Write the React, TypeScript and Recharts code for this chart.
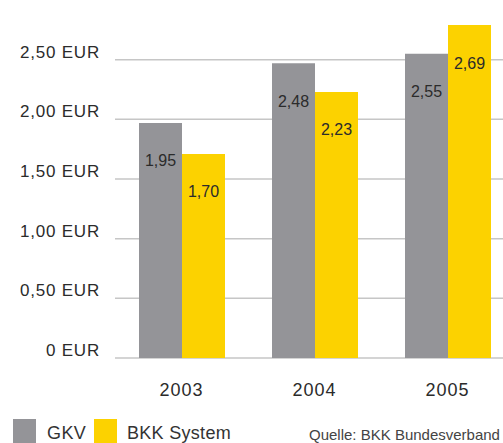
import { BarChart, Bar, XAxis, YAxis, CartesianGrid, LabelList } from 'recharts'

const years = ['2003', '2004', '2005']
const gkvValues = [1.97, 2.47, 2.55]
const gkvLabels = ['1,95', '2,48', '2,55']
const bkkValues = [1.71, 2.23, 2.79]
const bkkLabels = ['1,70', '2,23', '2,69']
const yTicks = [0, 0.5, 1, 1.5, 2, 2.5]
const yTickLabels = ['0 EUR', '0,50 EUR', '1,00 EUR', '1,50 EUR', '2,00 EUR', '2,50 EUR']
const seriesNames = ['GKV', 'BKK System']
const source = 'Quelle: BKK Bundesverband'

const GRAY = '#949498'
const YELLOW = '#fcd200'
const FONT = '"Liberation Sans", Arial, sans-serif'

const data = years.map((year, i) => ({
  year,
  gkv: gkvValues[i],
  gkvLabel: gkvLabels[i],
  bkk: bkkValues[i],
  bkkLabel: bkkLabels[i],
}))

const formatTick = (v: number) => yTickLabels[yTicks.indexOf(v)] ?? ''

const InsideLabel = (props: any) => {
  const { x, y, width, value } = props
  return (
    <text
      x={x + width / 2}
      y={y + 38}
      textAnchor="middle"
      dominantBaseline="central"
      fontFamily={FONT}
      fontSize={16}
      fill="#2b2b2b"
    >
      {value}
    </text>
  )
}

const textStyle = { position: 'absolute' as const, fontSize: 18, color: '#333', whiteSpace: 'nowrap' as const, lineHeight: '20px' }

export default function App() {
  return (
    <div
      style={{
        position: 'fixed',
        left: 0,
        top: 0,
        width: 503,
        height: 443,
        overflow: 'hidden',
        fontFamily: FONT,
        background: '#fff',
      }}
    >
      <BarChart
        width={514}
        height={443}
        data={data}
        margin={{ top: 0, right: 0, bottom: 55, left: 0 }}
        barGap={0}
        barCategoryGap={24}
        accessibilityLayer={false}
      >
        <CartesianGrid vertical={false} horizontalValues={yTicks} stroke="#c6c6c6" strokeWidth={1.5} />
        <XAxis
          dataKey="year"
          height={30}
          axisLine={false}
          tickLine={false}
          tickMargin={19}
          tick={{ fontFamily: FONT, fontSize: 18, fill: '#2b2b2b', letterSpacing: 1 }}
        />
        <YAxis
          width={115}
          domain={[0, 3]}
          ticks={yTicks}
          tickFormatter={formatTick}
          axisLine={false}
          tickLine={false}
          tickSize={0}
          tickMargin={15}
          dy={-8}
          tick={{ fontFamily: FONT, fontSize: 17, fill: '#2b2b2b', letterSpacing: 0.8 }}
        />
        <Bar dataKey="gkv" name={seriesNames[0]} fill={GRAY} isAnimationActive={false}>
          <LabelList dataKey="gkvLabel" content={<InsideLabel />} />
        </Bar>
        <Bar dataKey="bkk" name={seriesNames[1]} fill={YELLOW} isAnimationActive={false}>
          <LabelList dataKey="bkkLabel" content={<InsideLabel />} />
        </Bar>
      </BarChart>
      <div style={{ position: 'absolute', left: 13, top: 419, width: 23, height: 30, background: GRAY }} />
      <span style={{ ...textStyle, left: 47, top: 423, letterSpacing: 0.4 }}>{seriesNames[0]}</span>
      <div style={{ position: 'absolute', left: 94, top: 419, width: 23, height: 30, background: YELLOW }} />
      <span style={{ ...textStyle, left: 127, top: 423, letterSpacing: 0.3 }}>{seriesNames[1]}</span>
      <span style={{ ...textStyle, left: 309, top: 425, fontSize: 15, color: '#444' }}>{source}</span>
    </div>
  )
}
